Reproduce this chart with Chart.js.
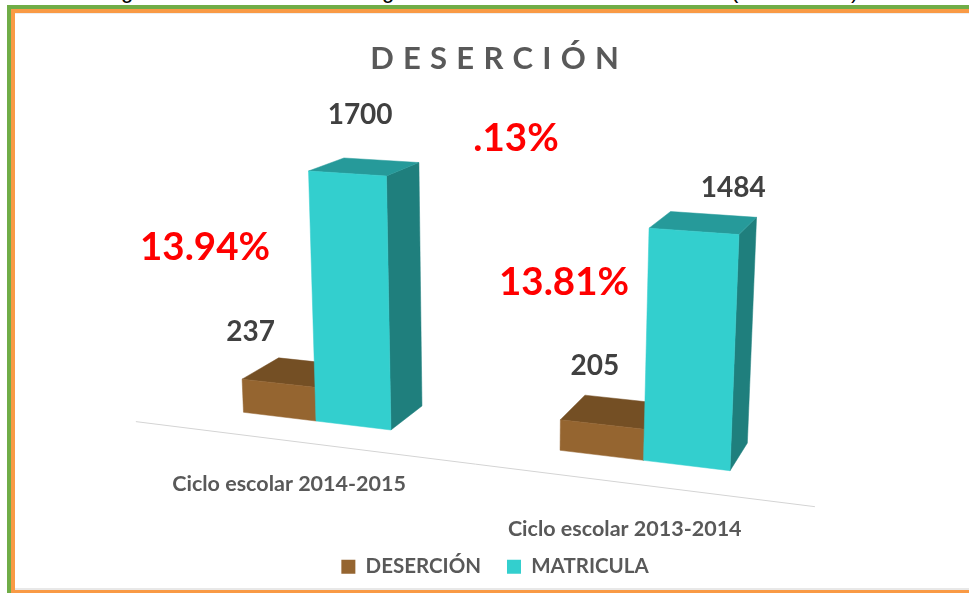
<!DOCTYPE html>
<html lang="es">
<head>
<meta charset="utf-8">
<title>Deserción</title>
<style>
  html, body { margin: 0; padding: 0; background: #fff; width: 969px; height: 593px; overflow: hidden; }
  #green { position: absolute; left: 7px; top: 5px; right: 0; bottom: 0; border-left: 4px solid #70ad47; border-top: 4px solid #70ad47; }
  #orange { position: absolute; left: 0; top: 0; right: 0; bottom: 0; border-left: 4px solid #f99a45; border-top: 4px solid #f99a45; border-bottom: 3px solid #f99a45; box-shadow: inset 0 1px 0 #eeeeee, inset 0 -2px 0 #e8e8e8; }
  .cut { position: absolute; top: -20px; font: 22px/22px "Liberation Sans", Arial, sans-serif; color: #000; }
  canvas { position: absolute; left: 0; top: 0; }
</style>
</head>
<body>
<div class="cut" style="left:121px">g</div>
<div class="cut" style="left:382px">g</div>
<div class="cut" style="left:731px">(</div>
<div class="cut" style="left:851px">)</div>
<div id="green"><div id="orange"></div></div>
<canvas id="c" width="969" height="593"></canvas>
<script src="https://cdn.jsdelivr.net/npm/chart.js@4/dist/chart.umd.min.js"></script>
<script>
// ---- data ----
const categories = ['Ciclo escolar 2014-2015', 'Ciclo escolar 2013-2014'];
const desercion = [237, 205];
const matricula = [1700, 1484];
const seriesNames = ['DESERCIÓN', 'MATRICULA'];
const chartTitle = 'D E S E R C I Ó N';
const percentTexts = ['13.94%', '.13%', '13.81%'];

// ---- hand-placed label positions, as in the source slide ----
const percentAt = [[205, 248], [516, 139], [564, 283]];
const desercionLabelShift = [[-63, -30], [-30, -33]];
const matriculaLabelShift = [[-21, -45], [20, -26]];

// ---- colours: front, top, side ----
const brownFaces = ['#956530', '#744f24', '#5f4120'];
const tealFaces = ['#33cfce', '#269a9a', '#1f7f7d'];
const textGrey = '#595959';
const labelDark = '#404040';

// ---- perspective camera: the flat plot plane is projected through three vanishing points ----
const cam = {
  o: [316, 421], vx: [-4140, -114], vy: [499, 6540], vz: [1100, -120],
  perPx: -0.000205, perUnit: -2.309e-5, barDepth: 0.045, floorFront: -0.035, labelDrop: -299
};
function project(dx, value, s) {
  const a = cam.perPx * dx, b = cam.perUnit * value;
  const w = 1 + a + b + s;
  return [
    (cam.o[0] + a * cam.vx[0] + b * cam.vy[0] + s * cam.vz[0]) / w,
    (cam.o[1] + a * cam.vx[1] + b * cam.vy[1] + s * cam.vz[1]) / w
  ];
}
function poly(ctx, pts, color) {
  ctx.beginPath();
  pts.forEach((p, i) => i ? ctx.lineTo(p[0], p[1]) : ctx.moveTo(p[0], p[1]));
  ctx.closePath();
  ctx.fillStyle = color;
  ctx.strokeStyle = color;
  ctx.lineWidth = 0.5;
  ctx.fill();
  ctx.stroke();
}

const perspectiveBars = {
  id: 'perspectiveBars',
  beforeDraw(chart) {
    const tb = chart.titleBlock;
    if (tb && !tb._spaced) {
      const draw = tb.draw.bind(tb);
      tb.draw = function () {
        chart.ctx.letterSpacing = '0.85px';
        draw();
        chart.ctx.letterSpacing = '0px';
      };
      tb._spaced = true;
    }
  },
  beforeDatasetDraw() { return false; },
  afterDatasetsDraw(chart) {
    const ctx = chart.ctx, xs = chart.scales.x, ys = chart.scales.y;
    const u0 = xs.getPixelForValue(0);
    ctx.save();

    // category axis line on the floor
    const a = project(xs.left - u0, 0, cam.floorFront), b = project(xs.right - u0, 0, cam.floorFront);
    ctx.beginPath(); ctx.moveTo(a[0], a[1]); ctx.lineTo(b[0], b[1]);
    ctx.strokeStyle = '#d4d4d4'; ctx.lineWidth = 1; ctx.stroke();

    // bars
    const faces = [brownFaces, tealFaces];
    const shifts = [desercionLabelShift, matriculaLabelShift];
    const values = [desercion, matricula];
    const labels = [];
    chart.data.datasets.forEach((ds, di) => {
      chart.getDatasetMeta(di).data.forEach((el, i) => {
        const p = el.getProps(['x', 'y', 'base', 'width'], true);
        const l = p.x - p.width / 2 - u0, r = p.x + p.width / 2 - u0;
        const top = ys.getValueForPixel(p.y), bot = ys.getValueForPixel(p.base);
        const d = cam.barDepth, f = faces[di];
        poly(ctx, [project(r, bot, 0), project(r, top, 0), project(r, top, d), project(r, bot, d)], f[2]);
        poly(ctx, [project(l, top, 0), project(r, top, 0), project(r, top, d), project(l, top, d)], f[1]);
        poly(ctx, [project(l, bot, 0), project(r, bot, 0), project(r, top, 0), project(l, top, 0)], f[0]);
        const back = project((l + r) / 2, top, d);
        labels.push([String(values[di][i]), back[0] + shifts[di][i][0], back[1] + shifts[di][i][1]]);
      });
    });

    ctx.textAlign = 'center';
    ctx.textBaseline = 'middle';

    // category labels, laid on the floor plane under each group
    ctx.font = 'bold 21.5px Lato';
    ctx.fillStyle = textGrey;
    categories.forEach((name, i) => {
      const p = project(xs.getPixelForValue(i) - u0, cam.labelDrop, cam.floorFront);
      ctx.fillText(name, p[0], p[1]);
    });

    // value labels
    ctx.font = 'bold 28px Lato';
    ctx.fillStyle = labelDark;
    labels.forEach(t => ctx.fillText(t[0], t[1], t[2]));

    // percentages
    ctx.font = 'bold 38.5px Lato';
    ctx.fillStyle = '#ff0000';
    percentTexts.forEach((t, i) => ctx.fillText(t, percentAt[i][0], percentAt[i][1]));
    ctx.restore();
  }
};

new Chart(document.getElementById('c'), {
  type: 'bar',
  data: {
    labels: categories,
    datasets: [
      { label: seriesNames[0], data: desercion, backgroundColor: brownFaces[0] },
      { label: seriesNames[1], data: matricula, backgroundColor: tealFaces[0] }
    ]
  },
  options: {
    responsive: false,
    animation: false,
    events: [],
    layout: { padding: { left: 161, right: 140, top: 0, bottom: 6 } },
    datasets: { bar: { barPercentage: 1, categoryPercentage: 0.4832 } },
    scales: {
      x: { display: false },
      y: { display: false, min: -800, max: 2200 }
    },
    plugins: {
      tooltip: { enabled: false },
      title: {
        display: true, text: chartTitle, color: textGrey,
        font: { family: 'Lato', size: 31, weight: 'bold' },
        padding: { top: 40, bottom: 24 }
      },
      legend: {
        position: 'bottom',
        labels: {
          boxWidth: 14, boxHeight: 14, padding: 26, color: textGrey,
          font: { family: 'Lato', size: 20.5, weight: 'bold' }
        }
      }
    }
  },
  plugins: [perspectiveBars]
});
</script>
</body>
</html>
